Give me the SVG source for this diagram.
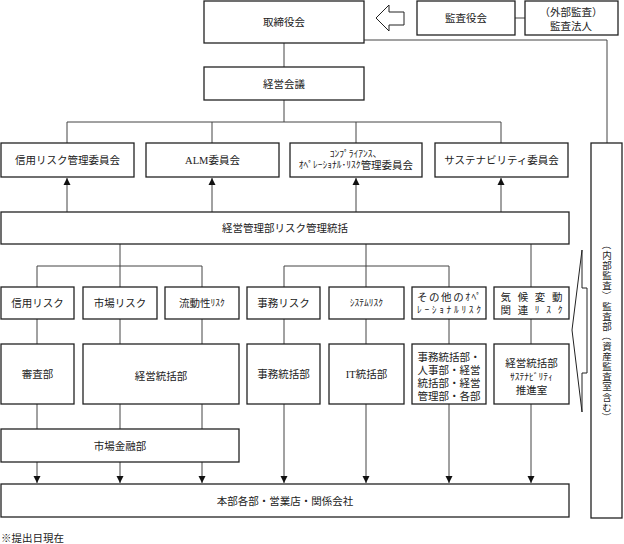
<svg xmlns="http://www.w3.org/2000/svg" width="624" height="544" viewBox="0 0 624 544">
<style>
.b{fill:#fff;stroke:#222;stroke-width:1.3}
.l{fill:none;stroke:#444;stroke-width:1}
.t{font-family:"Liberation Serif","Noto Sans CJK JP",serif;font-size:10.5px;fill:#222;text-anchor:middle;dominant-baseline:central}
.s{font-size:9.5px}
.v{font-family:"Noto Sans CJK JP",sans-serif;font-size:9.5px;fill:#222;text-anchor:middle;dominant-baseline:central}
</style>
<defs>
<marker id="ah" viewBox="0 0 8 8" refX="8" refY="4" markerWidth="7" markerHeight="8" markerUnits="userSpaceOnUse" orient="auto">
<path d="M0,0 L8,4 L0,8 z" fill="#111"/>
</marker>
</defs>
<rect width="624" height="544" fill="#fff"/>

<g id="connectors">
<path class="l" d="M284,43 V67 M284,100 V122 M67,122 H501 M67,122 V143 M212,122 V143 M356,122 V143 M501,122 V143"/>
<path class="l" d="M364,40 H607 V143"/>
<path class="l" d="M515,18 H525"/>
<line class="l" x1="67" y1="212" x2="67" y2="178" marker-end="url(#ah)"/>
<line class="l" x1="212" y1="212" x2="212" y2="178" marker-end="url(#ah)"/>
<line class="l" x1="356" y1="212" x2="356" y2="178" marker-end="url(#ah)"/>
<line class="l" x1="501" y1="212" x2="501" y2="178" marker-end="url(#ah)"/>
<path class="l" d="M120,244 V287 M37,266 H202 M37,266 V287 M202,266 V287"/>
<path class="l" d="M366,244 V287 M284,266 H449 M284,266 V287 M449,266 V287 M531,244 V287"/>
<path class="l" d="M37,319 V344 M120,319 V344 M202,319 V344 M284,319 V344 M366,319 V344 M449,319 V344 M531,319 V344"/>
<path class="l" d="M37,404 V429 M120,404 V429 M202,404 V429"/>
<line class="l" x1="37" y1="462" x2="37" y2="483" marker-end="url(#ah)"/>
<line class="l" x1="120" y1="462" x2="120" y2="483" marker-end="url(#ah)"/>
<line class="l" x1="202" y1="462" x2="202" y2="483" marker-end="url(#ah)"/>
<line class="l" x1="284" y1="404" x2="284" y2="483" marker-end="url(#ah)"/>
<line class="l" x1="366" y1="404" x2="366" y2="483" marker-end="url(#ah)"/>
<line class="l" x1="449" y1="404" x2="449" y2="483" marker-end="url(#ah)"/>
<line class="l" x1="531" y1="404" x2="531" y2="483" marker-end="url(#ah)"/>
</g>

<g id="torishimariyakukai"><rect class="b" x="204" y="1" width="160" height="42"/><text class="t" x="284" y="22">取締役会</text></g>
<g id="arrow-kansa"><path d="M376,18 L389,5 L389,12 L404,12 L404,25 L389,25 L389,31 Z" fill="#fff" stroke="#222" stroke-width="1"/></g>
<g id="kansayakukai"><rect class="b" x="417" y="1" width="98" height="34"/><text class="t" x="466" y="18">監査役会</text></g>
<g id="kansahojin"><rect class="b" x="525" y="1" width="93" height="34"/><text class="t" x="571" y="12">（外部監査）</text><text class="t" x="571" y="26">監査法人</text></g>

<g id="keiei-kaigi"><rect class="b" x="204" y="67" width="160" height="33"/><text class="t" x="284" y="84">経営会議</text></g>

<g id="shinyo-iinkai"><rect class="b" x="1" y="143" width="133" height="34"/><text class="t" x="67.5" y="160">信用リスク管理委員会</text></g>
<g id="alm-iinkai"><rect class="b" x="146" y="143" width="133" height="34"/><text class="t" x="212.5" y="160">ALM委員会</text></g>
<g id="compliance-iinkai"><rect class="b" x="290" y="143" width="132" height="34"/><text class="t s" x="356" y="154">ｺﾝﾌﾟﾗｲｱﾝｽ、</text><text class="t" x="356" y="165"><tspan class="s">ｵﾍﾟﾚｰｼｮﾅﾙ･ﾘｽｸ</tspan>管理委員会</text></g>
<g id="sustainability-iinkai"><rect class="b" x="435" y="143" width="133" height="34"/><text class="t" x="501.5" y="160">サステナビリティ委員会</text></g>

<g id="risk-kanri-tokatsu"><rect class="b" x="1" y="212" width="568" height="32"/><text class="t" x="285" y="228">経営管理部リスク管理統括</text></g>

<g id="kansabu"><rect class="b" x="591" y="143" width="31" height="375"/>
<text class="v" x="607" y="245" transform="rotate(90 607 245)">（</text>
<text class="v" x="607" y="255">内</text>
<text class="v" x="607" y="265">部</text>
<text class="v" x="607" y="275">監</text>
<text class="v" x="607" y="285">査</text>
<text class="v" x="607" y="295.5" transform="rotate(90 607 295.5)">）</text>
<text class="v" x="607" y="306">監</text>
<text class="v" x="607" y="316">査</text>
<text class="v" x="607" y="326">部</text>
<text class="v" x="607" y="336" transform="rotate(90 607 336)">（</text>
<text class="v" x="607" y="346">資</text>
<text class="v" x="607" y="356">産</text>
<text class="v" x="607" y="366">監</text>
<text class="v" x="607" y="376">査</text>
<text class="v" x="607" y="386">室</text>
<text class="v" x="607" y="397">含</text>
<text class="v" x="607" y="407">む</text>
<text class="v" x="607" y="417" transform="rotate(90 607 417)">）</text>
</g>
<g id="kansa-bracket"><path d="M582,250 L572,330 L582,412 L582,373 L587,373 L587,288 L582,288 Z" fill="#fff" stroke="#222" stroke-width="1"/></g>

<g id="shinyo-risk"><rect class="b" x="1" y="287" width="73" height="32"/><text class="t" x="37.5" y="303">信用リスク</text></g>
<g id="shijo-risk"><rect class="b" x="83" y="287" width="74" height="32"/><text class="t" x="120" y="303">市場リスク</text></g>
<g id="ryudosei-risk"><rect class="b" x="165" y="287" width="74" height="32"/><text class="t" x="202" y="303">流動性<tspan class="s">ﾘｽｸ</tspan></text></g>
<g id="jimu-risk"><rect class="b" x="247" y="287" width="73" height="32"/><text class="t" x="283.5" y="303">事務リスク</text></g>
<g id="system-risk"><rect class="b" x="329" y="287" width="75" height="32"/><text class="t s" x="366.5" y="303">ｼｽﾃﾑﾘｽｸ</text></g>
<g id="sonota-risk"><rect class="b" x="412" y="287" width="74" height="32"/><text class="t" x="449" y="297" textLength="64" lengthAdjust="spacing">その他の<tspan class="s">ｵﾍﾟ</tspan></text><text class="t s" x="449" y="310" textLength="64" lengthAdjust="spacing">ﾚｰｼｮﾅﾙﾘｽｸ</text></g>
<g id="kiko-risk"><rect class="b" x="494" y="287" width="75" height="32"/><text class="t" x="531.5" y="297" textLength="62" lengthAdjust="spacing">気候変動</text><text class="t" x="531.5" y="310" textLength="62" lengthAdjust="spacing">関連<tspan class="s">ﾘｽｸ</tspan></text></g>

<g id="shinsabu"><rect class="b" x="1" y="344" width="73" height="60"/><text class="t" x="37.5" y="374">審査部</text></g>
<g id="keiei-tokatsubu"><rect class="b" x="83" y="344" width="156" height="60"/><text class="t" x="161" y="376">経営統括部</text></g>
<g id="jimu-tokatsubu"><rect class="b" x="247" y="344" width="73" height="60"/><text class="t" x="283.5" y="374">事務統括部</text></g>
<g id="it-tokatsubu"><rect class="b" x="329" y="344" width="75" height="60"/><text class="t" x="366.5" y="374">IT統括部</text></g>
<g id="kakubu"><rect class="b" x="412" y="344" width="74" height="60"/><text class="t" x="449" y="357">事務統括部・</text><text class="t" x="449" y="370">人事部・経営</text><text class="t" x="449" y="383">統括部・経営</text><text class="t" x="449" y="396">管理部・各部</text></g>
<g id="sustainability-suishinshitsu"><rect class="b" x="494" y="344" width="75" height="60"/><text class="t" x="531.5" y="363">経営統括部</text><text class="t s" x="531.5" y="377">ｻｽﾃﾅﾋﾞﾘﾃｨ</text><text class="t" x="531.5" y="390">推進室</text></g>

<g id="shijo-kinyubu"><rect class="b" x="1" y="429" width="238" height="33"/><text class="t" x="120" y="446">市場金融部</text></g>

<g id="honbu"><rect class="b" x="1" y="484" width="568" height="33"/><text class="t" x="285" y="501">本部各部・営業店・関係会社</text></g>

<text class="t" x="1" y="538" style="text-anchor:start">※提出日現在</text>
</svg>
